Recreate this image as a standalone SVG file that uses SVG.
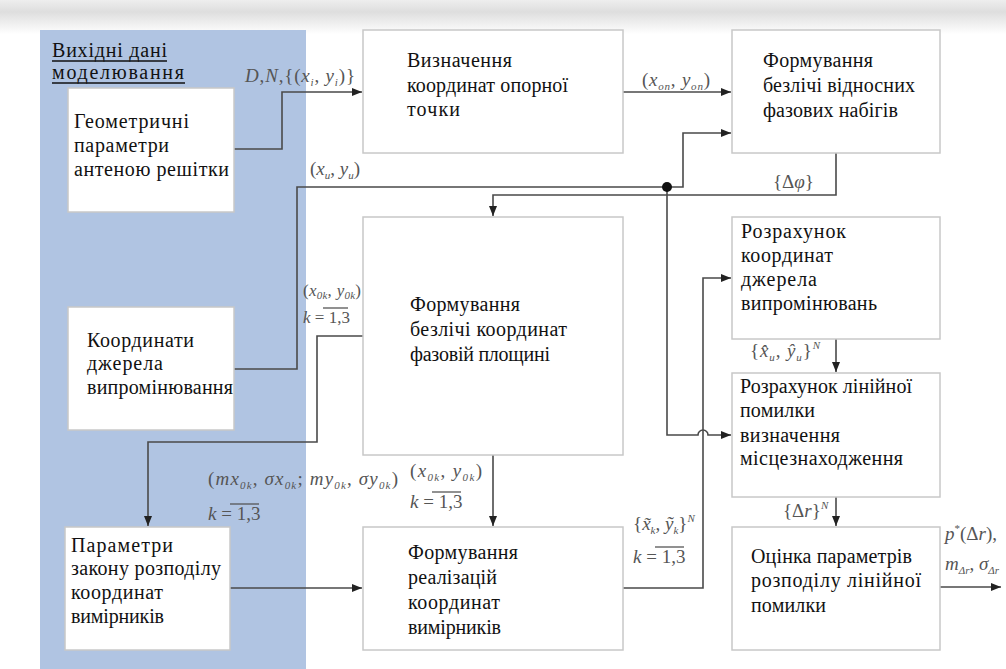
<svg xmlns="http://www.w3.org/2000/svg" width="1006" height="669" viewBox="0 0 1006 669">
<defs>
<linearGradient id="topg" x1="0" y1="0" x2="0" y2="1">
<stop offset="0" stop-color="#eeeeee"/><stop offset="0.35" stop-color="#dedede"/><stop offset="1" stop-color="#ffffff"/>
</linearGradient>
<marker id="arr" viewBox="0 0 10 8" refX="10" refY="4" markerWidth="10" markerHeight="8" markerUnits="userSpaceOnUse" orient="auto"><path d="M0,0 L10,4 L0,8 z" fill="#222"/></marker>
</defs>
<style>
.box{fill:#fff;stroke:#c8c8c8;stroke-width:1.5}
.t{font-family:'Liberation Serif','Times New Roman',serif;font-size:20px;fill:#111}
.h{font-family:'Liberation Serif','Times New Roman',serif;font-size:20px;fill:#111}
.m{font-family:'Liberation Serif','Times New Roman',serif;font-size:19px;font-style:italic;fill:#555}
.n{font-style:normal}
.s{font-size:11px}
.c{fill:none;stroke:#4a4a4a;stroke-width:1.6}
.ar{marker-end:url(#arr)}
.ul{stroke:#111;stroke-width:1.3}
.ol{stroke:#555;stroke-width:1.3}
</style>
<rect x="0" y="0" width="1006" height="669" fill="#fff"/>
<rect x="0" y="0" width="1006" height="34" fill="url(#topg)"/>
<rect id="panel" x="40" y="30" width="266" height="639" fill="#b0c4e2"/>

<g id="panel-title">
<text class="h" x="52" y="57" textLength="115" lengthAdjust="spacing">Вихідні дані</text>
<text class="h" x="52" y="79" textLength="132" lengthAdjust="spacing">моделювання</text>
<line class="ul" x1="52" y1="61" x2="167" y2="61"/>
<line class="ul" x1="52" y1="83" x2="185" y2="83"/>
</g>

<g id="connectors">
<path class="c ar" d="M234,149 H282 V92 H362"/>
<path class="c ar" d="M234,369 H297 V187 H683 V133 H731"/>
<path class="c ar" d="M667,187 V435 H698 a5,5 0 0 1 10,0 H731"/>
<path class="c ar" d="M836,153 V195 H493 V216"/>
<path class="c ar" d="M623,92 H731"/>
<path class="c ar" d="M363,336 H317 V442 H148 V526"/>
<path class="c ar" d="M493,455 V526"/>
<path class="c ar" d="M230,588 H362"/>
<path class="c ar" d="M623,588 H703 V278 H731"/>
<path class="c ar" d="M836,339 V372"/>
<path class="c ar" d="M836,497 V526"/>
<path class="c ar" d="M940,587 H1001"/>
<circle cx="667" cy="187" r="5" fill="#111"/>
</g>

<g id="labels">
<text class="m" x="245" y="82" textLength="110" lengthAdjust="spacing">D<tspan class="n">,</tspan>N<tspan class="n">,{(</tspan>x<tspan class="s" dy="4">i</tspan><tspan dy="-4" class="n">, </tspan>y<tspan class="s" dy="4">i</tspan><tspan dy="-4" class="n">)}</tspan></text>
<text class="m" x="310" y="175"><tspan class="n">(</tspan>x<tspan class="s" dy="4">u</tspan><tspan dy="-4" class="n">, </tspan>y<tspan class="s" dy="4">u</tspan><tspan dy="-4" class="n">)</tspan></text>
<text class="m" x="642" y="86" textLength="68" lengthAdjust="spacing"><tspan class="n">(</tspan>x<tspan class="s" dy="4">on</tspan><tspan dy="-4" class="n">, </tspan>y<tspan class="s" dy="4">on</tspan><tspan dy="-4" class="n">)</tspan></text>
<text class="m" x="773" y="188"><tspan class="n">{Δ</tspan>φ<tspan class="n">}</tspan></text>
<text class="m" x="303" y="296" style="font-size:17px" textLength="58" lengthAdjust="spacing"><tspan class="n">(</tspan>x<tspan class="s" dy="3">0k</tspan><tspan dy="-3" class="n">, </tspan>y<tspan class="s" dy="3">0k</tspan><tspan dy="-3" class="n">)</tspan></text>
<text class="m" x="303" y="323" style="font-size:17px">k <tspan class="n">= 1,3</tspan></text>
<line class="ol" x1="323" y1="308" x2="348" y2="308"/>
<text class="m" x="208" y="485" textLength="190" lengthAdjust="spacing"><tspan class="n">(</tspan>mx<tspan class="s" dy="4">0k</tspan><tspan dy="-4" class="n">, </tspan>σx<tspan class="s" dy="4">0k</tspan><tspan dy="-4" class="n">; </tspan>my<tspan class="s" dy="4">0k</tspan><tspan dy="-4" class="n">, </tspan>σy<tspan class="s" dy="4">0k</tspan><tspan dy="-4" class="n">)</tspan></text>
<text class="m" x="208" y="520">k <tspan class="n">= 1,3</tspan></text>
<line class="ol" x1="230" y1="504" x2="259" y2="504"/>
<text class="m" x="410" y="477" textLength="72" lengthAdjust="spacing"><tspan class="n">(</tspan>x<tspan class="s" dy="4">0k</tspan><tspan dy="-4" class="n">, </tspan>y<tspan class="s" dy="4">0k</tspan><tspan dy="-4" class="n">)</tspan></text>
<text class="m" x="410" y="508">k <tspan class="n">= 1,3</tspan></text>
<line class="ol" x1="432" y1="492" x2="461" y2="492"/>
<text class="m" x="633" y="530"><tspan class="n">{</tspan>x̃<tspan class="s" dy="4">k</tspan><tspan dy="-4" class="n">, </tspan>ỹ<tspan class="s" dy="4">k</tspan><tspan dy="-4" class="n">}</tspan><tspan class="s" dy="-8">N</tspan></text>
<text class="m" x="633" y="563">k <tspan class="n">= 1,3</tspan></text>
<line class="ol" x1="655" y1="547" x2="684" y2="547"/>
<text class="m" x="750" y="357" textLength="70" lengthAdjust="spacing"><tspan class="n">{</tspan>x̂<tspan class="s" dy="4">u</tspan><tspan dy="-4" class="n">, </tspan>ŷ<tspan class="s" dy="4">u</tspan><tspan dy="-4" class="n">}</tspan><tspan class="s" dy="-8">N</tspan></text>
<text class="m" x="783" y="517"><tspan class="n">{Δ</tspan>r<tspan class="n">}</tspan><tspan class="s" dy="-8">N</tspan></text>
<text class="m" x="945" y="540">p<tspan class="s n" dy="-8">*</tspan><tspan dy="8" class="n">(Δ</tspan>r<tspan class="n">),</tspan></text>
<text class="m" x="945" y="570">m<tspan class="s" dy="4">Δr</tspan><tspan dy="-4" class="n">, </tspan>σ<tspan class="s" dy="4">Δr</tspan></text>
</g>

<g id="n-geom">
<rect class="box" x="68" y="88" width="166" height="124"/>
<text class="t" x="74" y="128" textLength="115" lengthAdjust="spacing">Геометричні</text>
<text class="t" x="74" y="152" textLength="95" lengthAdjust="spacing">параметри</text>
<text class="t" x="74" y="176" textLength="155" lengthAdjust="spacing">антеною решітки</text>
</g>
<g id="n-source">
<rect class="box" x="68" y="307" width="166" height="123"/>
<text class="t" x="87" y="347" textLength="107" lengthAdjust="spacing">Координати</text>
<text class="t" x="87" y="370" textLength="76" lengthAdjust="spacing">джерела</text>
<text class="t" x="87" y="394" textLength="146" lengthAdjust="spacing">випромінювання</text>
</g>
<g id="n-law">
<rect class="box" x="65" y="527" width="165" height="123"/>
<text class="t" x="71" y="552" textLength="102" lengthAdjust="spacing">Параметри</text>
<text class="t" x="71" y="575" textLength="150" lengthAdjust="spacing">закону розподілу</text>
<text class="t" x="71" y="599" textLength="92" lengthAdjust="spacing">координат</text>
<text class="t" x="71" y="623" textLength="93" lengthAdjust="spacing">вимірників</text>
</g>
<g id="n-ref">
<rect class="box" x="363" y="30" width="260" height="123"/>
<text class="t" x="407" y="67" textLength="105" lengthAdjust="spacing">Визначення</text>
<text class="t" x="407" y="92" textLength="161" lengthAdjust="spacing">координат опорної</text>
<text class="t" x="407" y="116" textLength="53" lengthAdjust="spacing">точки</text>
</g>
<g id="n-phase">
<rect class="box" x="732" y="30" width="208" height="123"/>
<text class="t" x="763" y="67" textLength="110" lengthAdjust="spacing">Формування</text>
<text class="t" x="763" y="92" textLength="152" lengthAdjust="spacing">безлічі відносних</text>
<text class="t" x="763" y="117" textLength="135" lengthAdjust="spacing">фазових набігів</text>
</g>
<g id="n-plane">
<rect class="box" x="363" y="217" width="260" height="238"/>
<text class="t" x="410" y="311" textLength="110" lengthAdjust="spacing">Формування</text>
<text class="t" x="410" y="336" textLength="157" lengthAdjust="spacing">безлічі координат</text>
<text class="t" x="410" y="361" textLength="140" lengthAdjust="spacing">фазовій площині</text>
</g>
<g id="n-real">
<rect class="box" x="363" y="527" width="260" height="123"/>
<text class="t" x="408" y="559" textLength="110" lengthAdjust="spacing">Формування</text>
<text class="t" x="408" y="584" textLength="89" lengthAdjust="spacing">реалізацій</text>
<text class="t" x="408" y="609" textLength="92" lengthAdjust="spacing">координат</text>
<text class="t" x="408" y="634" textLength="93" lengthAdjust="spacing">вимірників</text>
</g>
<g id="n-calc">
<rect class="box" x="732" y="217" width="208" height="122"/>
<text class="t" x="741" y="238" textLength="105" lengthAdjust="spacing">Розрахунок</text>
<text class="t" x="741" y="262" textLength="92" lengthAdjust="spacing">координат</text>
<text class="t" x="741" y="286" textLength="76" lengthAdjust="spacing">джерела</text>
<text class="t" x="741" y="310" textLength="136" lengthAdjust="spacing">випромінювань</text>
</g>
<g id="n-err">
<rect class="box" x="732" y="373" width="208" height="124"/>
<text class="t" x="740" y="393" textLength="172" lengthAdjust="spacing">Розрахунок лінійної</text>
<text class="t" x="740" y="417" textLength="75" lengthAdjust="spacing">помилки</text>
<text class="t" x="740" y="442" textLength="100" lengthAdjust="spacing">визначення</text>
<text class="t" x="740" y="465" textLength="163" lengthAdjust="spacing">місцезнаходження</text>
</g>
<g id="n-est">
<rect class="box" x="732" y="527" width="208" height="123"/>
<text class="t" x="751" y="563" textLength="161" lengthAdjust="spacing">Оцінка параметрів</text>
<text class="t" x="751" y="587" textLength="170" lengthAdjust="spacing">розподілу лінійної</text>
<text class="t" x="751" y="612" textLength="75" lengthAdjust="spacing">помилки</text>
</g>
</svg>
